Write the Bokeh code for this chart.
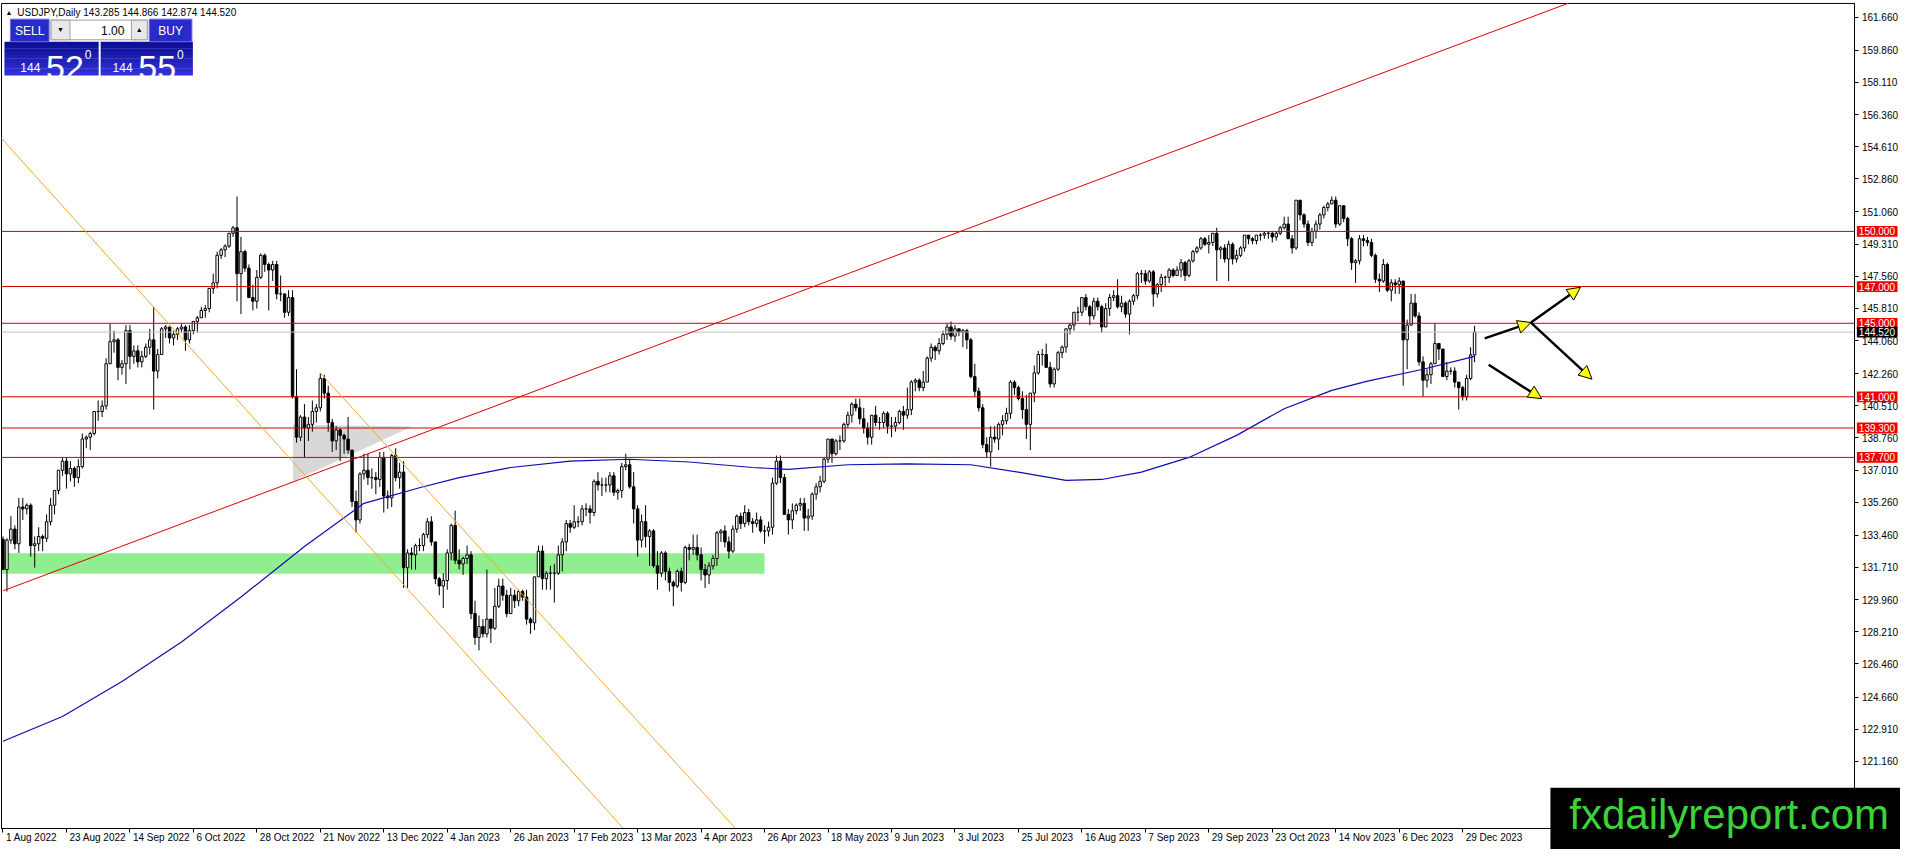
import numpy as np
from bokeh.plotting import figure
from bokeh.models import (ColumnDataSource, Range1d, FixedTicker, NumeralTickFormatter,
                          Label, LabelSet, Arrow, NormalHead)
from bokeh.core.properties import value
from bokeh.embed import file_html
from bokeh.resources import INLINE

# ---------------- data ----------------
SYMBOL = "USDJPY,Daily"
HEADER_OHLC = "143.285 144.866 142.874 144.520"
PREV_CLOSE = 133.25   # close before the first bar (opens follow the previous close)

HIGH = [
    133.4,133.3,134.5,134.0,135.5,135.5,135.2,135.2,133.4,133.9,133.5,134.6,135.5,135.9,137.0,137.7,137.7,137.5,137.2,137.6,139.0,138.9,139.1,
    140.2,140.8,140.8,143.1,145.0,144.6,144.2,143.0,144.9,144.9,143.8,143.8,143.5,143.9,144.7,145.9,143.6,144.8,144.9,144.8,144.6,144.8,
    145.0,144.9,144.9,145.1,145.4,145.9,146.0,146.9,147.7,148.9,149.1,149.3,149.9,150.3,151.9,149.7,149.0,148.2,147.1,147.9,148.8,
    148.8,148.3,148.4,148.4,147.6,146.6,146.8,146.8,142.5,140.0,140.6,139.9,140.8,140.6,142.3,142.2,141.6,139.8,139.4,139.3,139.0,139.9,
    138.1,135.9,136.9,137.9,137.9,137.1,136.9,138.0,138.0,135.9,137.9,138.2,137.4,137.5,132.7,132.8,133.0,133.3,133.6,134.4,134.5,133.1,
    131.2,131.4,132.7,134.1,134.8,132.7,132.3,132.9,132.6,129.9,129.1,128.9,131.6,128.9,130.6,131.1,131.1,130.5,130.6,130.5,130.5,130.5,
    130.5,129.0,131.2,132.9,132.9,131.5,131.8,131.9,132.9,133.3,134.3,134.3,135.1,134.5,135.1,135.2,135.1,136.5,136.9,136.6,
    136.6,136.9,136.9,136.0,137.4,137.9,137.6,136.9,135.1,134.6,135.1,133.8,133.8,132.6,132.6,132.6,131.7,131.0,131.6,131.7,132.9,133.0,133.5,
    133.5,132.8,131.9,132.0,132.4,133.7,133.8,134.0,133.4,134.0,134.6,134.7,135.1,134.9,134.4,134.7,134.5,134.0,134.2,136.6,
    137.8,137.8,136.8,134.9,135.2,135.2,135.5,135.5,134.9,135.8,136.3,136.7,137.7,138.7,138.7,138.7,138.9,139.6,140.2,140.7,140.9,140.9,140.4,
    139.6,140.0,140.5,139.9,140.2,140.2,139.9,139.9,140.3,140.5,141.5,141.9,142.0,142.0,142.4,143.2,143.9,143.8,144.2,144.6,145.0,145.1,
    144.9,144.7,144.7,144.7,144.2,142.8,141.5,140.6,138.8,139.4,139.4,139.6,140.0,140.4,141.9,141.9,141.6,141.3,141.1,141.2,142.7,
    143.5,143.6,143.9,142.9,142.6,143.5,143.8,144.7,145.0,145.6,145.9,146.4,146.6,146.0,146.4,146.4,146.0,146.1,146.6,146.8,147.4,146.5,146.2,
    146.3,146.6,147.8,147.9,147.9,147.9,147.9,147.2,147.7,147.6,148.0,148.0,148.1,148.5,148.4,148.5,149.0,149.2,149.7,149.7,149.8,
    149.9,150.2,149.2,149.3,149.5,149.4,149.0,149.2,149.8,149.8,149.7,149.8,149.9,150.0,150.0,150.0,150.0,150.3,150.8,150.8,149.8,151.7,
    151.7,151.0,150.6,150.2,150.6,151.0,151.4,151.6,151.9,151.9,151.4,151.4,150.8,149.7,148.5,149.8,149.8,149.7,149.6,148.8,147.7,148.5,
    148.3,147.4,147.4,147.5,147.3,145.2,146.6,146.6,145.6,143.2,142.5,142.9,145.0,143.9,143.6,142.9,142.6,142.6,141.8,141.6,
    142.2,143.7,144.866,
]
LOW = [
    131.6,130.4,133.0,132.7,132.5,134.3,134.6,132.3,131.7,132.6,132.6,133.1,134.0,134.6,135.7,136.7,136.0,136.4,136.1,136.3,137.1,138.2,138.1,
    138.9,139.7,139.9,140.3,142.8,143.4,141.9,142.2,141.7,142.5,142.8,142.6,142.6,143.1,143.3,140.3,142.0,143.3,144.2,143.9,143.8,144.1,
    144.5,143.5,143.9,144.4,144.5,145.3,145.3,145.6,146.6,146.9,148.5,148.6,149.1,149.7,146.2,145.5,147.8,146.4,145.7,145.8,147.4,
    147.8,145.7,147.3,146.3,146.2,145.3,145.4,140.9,138.5,138.6,137.7,138.6,139.1,139.6,140.2,140.9,139.1,138.0,138.1,137.5,137.9,137.9,
    135.0,133.6,134.1,136.5,136.2,136.0,135.7,136.1,134.7,134.9,135.0,136.4,136.0,130.6,130.6,131.6,131.6,132.6,132.6,133.3,132.9,130.8,
    130.2,129.5,130.5,132.1,131.9,131.6,131.3,131.9,128.9,127.5,127.2,127.9,127.9,127.6,128.3,129.5,129.9,129.0,129.2,129.5,129.6,129.9,
    128.6,128.1,128.3,131.2,130.5,130.5,130.5,129.8,131.3,131.5,132.6,133.6,133.8,133.9,134.0,134.5,134.1,134.5,135.9,135.6,
    135.8,135.8,135.6,135.4,135.5,137.0,136.0,134.1,132.3,132.8,132.8,131.8,131.7,130.5,131.2,131.0,130.4,129.6,130.6,130.4,130.8,132.1,132.4,
    132.1,131.0,130.6,130.8,131.6,131.8,133.1,132.8,132.2,132.5,133.6,133.8,133.9,134.0,133.6,133.9,133.6,133.0,133.4,133.5,
    136.2,136.3,134.6,133.5,133.8,134.6,134.8,133.7,133.7,134.3,135.4,135.8,136.3,137.4,137.4,137.8,138.1,138.5,139.3,139.6,140.2,139.5,139.0,
    138.4,138.4,139.4,139.2,139.3,139.0,138.8,139.1,139.5,139.2,139.8,140.0,141.3,141.3,141.3,141.8,142.9,143.0,143.3,143.8,144.1,144.1,
    144.0,144.3,143.7,143.6,142.0,141.0,140.2,138.2,137.7,137.2,138.5,138.1,138.9,139.5,139.8,141.1,140.8,139.8,138.7,138.1,140.7,
    142.2,142.7,142.6,141.5,141.5,142.4,143.1,143.4,144.4,144.6,145.1,145.4,145.7,144.9,145.2,145.7,144.5,144.8,145.4,146.2,145.8,145.6,145.3,
    144.4,146.0,146.3,147.2,147.1,147.2,145.9,146.4,146.7,147.0,147.2,147.5,147.6,147.5,147.3,147.5,148.3,148.8,149.0,149.2,148.8,
    149.2,147.3,148.5,148.3,147.3,148.2,148.3,148.6,148.9,149.3,149.3,149.3,149.5,149.6,149.6,149.4,149.5,149.8,150.1,149.6,148.8,149.0,
    150.6,150.2,149.2,149.2,149.6,150.1,150.7,151.1,151.5,150.2,150.3,150.5,149.2,147.9,147.2,148.2,149.2,149.2,148.6,147.2,146.7,147.2,
    146.7,146.2,146.6,146.6,141.6,142.5,144.9,145.3,142.7,141.0,141.5,141.7,142.8,143.0,142.1,141.9,142.2,141.5,140.3,140.8,
    140.8,141.9,142.874,
]
CLOSE = [
    131.6,133.2,133.8,133.0,135.0,134.9,135.1,132.9,133.0,133.4,133.3,134.2,135.1,135.9,137.0,137.5,136.8,137.1,136.6,137.2,138.7,138.8,139.0,
    140.2,140.2,140.5,142.8,144.0,144.1,142.6,142.8,144.6,143.2,143.5,142.9,143.2,143.7,144.1,142.4,143.3,144.7,144.8,144.2,144.4,144.7,
    144.8,144.1,144.6,145.1,145.3,145.7,145.8,146.9,147.2,148.7,149.0,149.2,149.9,150.2,147.7,148.9,148.0,146.4,146.2,147.5,148.7,
    148.2,147.9,148.2,146.6,146.6,145.6,146.4,141.0,138.8,139.9,139.3,139.5,140.2,140.4,142.0,141.2,139.6,138.6,139.2,138.9,138.7,138.1,
    135.3,134.3,136.8,137.0,136.6,136.6,136.5,137.7,135.6,135.5,137.8,136.6,136.9,131.7,132.5,132.4,132.9,132.9,133.5,134.2,133.1,131.1,
    130.7,131.0,132.5,134.0,132.1,131.9,132.2,132.4,129.2,127.9,128.5,128.1,128.9,128.4,129.6,130.7,130.2,129.2,130.2,129.9,130.4,130.1,
    128.9,128.7,131.2,132.6,131.1,131.4,131.4,131.4,132.4,133.1,134.1,133.9,134.2,134.2,134.9,134.9,134.7,136.4,136.2,136.2,
    136.2,136.7,135.8,135.9,137.2,137.3,136.1,134.9,133.2,134.2,133.4,133.7,131.8,131.4,132.5,131.5,130.9,130.7,131.5,130.9,132.8,132.7,132.8,
    132.4,131.6,131.3,131.8,132.2,133.6,133.7,133.1,132.6,133.8,134.5,134.1,134.7,134.2,134.1,134.3,133.7,133.7,133.9,136.3,
    137.5,136.6,134.6,134.3,134.8,135.1,135.2,134.4,134.5,135.7,136.1,136.4,137.6,138.7,137.9,138.6,138.6,139.5,140.0,140.6,140.4,139.8,139.3,
    138.8,140.0,139.6,139.6,140.1,139.4,139.4,139.6,140.2,140.0,140.3,141.8,141.9,141.5,141.8,143.1,143.7,143.5,143.9,144.4,144.8,144.3,
    144.7,144.5,144.6,144.1,142.1,141.3,140.4,138.4,138.0,138.8,138.7,139.5,139.7,140.1,141.8,141.5,140.9,140.3,139.5,141.2,142.3,
    143.3,143.3,142.6,141.7,142.5,143.4,143.7,144.7,144.9,145.6,145.6,146.4,145.9,145.4,146.2,145.9,144.8,145.8,146.4,146.5,145.9,146.1,145.5,
    146.2,146.5,147.7,147.7,147.3,147.8,146.6,147.1,147.5,147.5,147.9,147.6,147.9,148.3,147.6,148.4,148.9,149.1,149.6,149.3,149.4,
    149.9,149.0,149.1,148.5,149.3,148.5,148.7,149.1,149.8,149.6,149.5,149.8,149.8,149.9,149.9,149.7,149.9,150.2,150.4,149.6,149.1,151.7,
    150.9,150.4,149.4,150.0,150.4,150.9,151.3,151.5,151.7,150.4,151.4,150.7,149.6,148.3,148.4,149.6,149.5,149.4,148.7,147.4,147.3,148.2,
    146.8,147.2,147.1,147.3,144.1,144.9,146.1,145.4,142.9,141.9,142.2,142.8,143.9,143.6,142.1,142.4,142.4,141.8,141.5,141.0,
    142.0,143.285,144.52,
]

X_TICK_STEP = 16
X_TICK_LABELS = ["1 Aug 2022", "23 Aug 2022", "14 Sep 2022", "6 Oct 2022", "28 Oct 2022",
                 "21 Nov 2022", "13 Dec 2022", "4 Jan 2023", "26 Jan 2023", "17 Feb 2023",
                 "13 Mar 2023", "4 Apr 2023", "26 Apr 2023", "18 May 2023", "9 Jun 2023",
                 "3 Jul 2023", "25 Jul 2023", "16 Aug 2023", "7 Sep 2023", "29 Sep 2023",
                 "23 Oct 2023", "14 Nov 2023", "6 Dec 2023", "29 Dec 2023"]
Y_TICKS = [161.66, 159.86, 158.11, 156.36, 154.61, 152.86, 151.06, 149.31, 147.56, 145.81,
           144.06, 142.26, 140.51, 138.76, 137.01, 135.26, 133.46, 131.71, 129.96, 128.21,
           126.46, 124.66, 122.91, 121.16]

LEVELS = [150.0, 147.0, 145.0, 141.0, 139.3, 137.7]
BID = 144.52

MA_IDX = [0, 15, 30, 45, 60, 76, 91, 105, 115, 128, 143, 158, 173, 189, 198, 213, 228, 244,
          256, 268, 277, 287, 299, 311, 323, 335, 344, 358, 371]
MA_VAL = [122.25, 123.6, 125.5, 127.65, 130.1, 132.85, 135.2, 136.05, 136.6, 137.15, 137.5,
          137.6, 137.45, 137.15, 137.05, 137.3, 137.35, 137.3, 136.9, 136.45, 136.5, 136.9,
          137.7, 138.9, 140.35, 141.35, 141.85, 142.5, 143.2]

TREND_X = [0, 394.5]
TREND_Y = [130.44, 162.41]
CHAN_A_X = [-0.375, 156.5]
CHAN_A_Y = [155.07, 117.48]
CHAN_B_X = [80, 184.8]
CHAN_B_Y = [142.3, 117.48]
ZONE_X = [-0.25, 192]
ZONE_Y = [131.37, 132.49]
TRI_X = [73.1, 73.1, 103.1]
TRI_Y = [139.49, 136.39, 139.38]
ARROWS = [(373.55, 144.18, 385.2, 145.04),
          (385.2, 145.04, 397.7, 146.96),
          (385.2, 145.04, 400.6, 141.96),
          (374.55, 142.74, 387.9, 140.90)]

SELL_PRICE = ("144", "52", "0")
BUY_PRICE = ("144", "55", "0")
LOT = "1.00"
WATERMARK = "fxdailyreport.com"

assert len(HIGH) == len(LOW) == len(CLOSE) == 372, (len(HIGH), len(LOW), len(CLOSE))

# ---------------- helpers: reference-pixel -> data ----------------
def X(px):
    return (px - 2.5) / 4.0

def Y(py):
    return 161.66 - (py - 17.0) / 18.72

FONT = "Liberation Sans"
CH_L, CH_R, CH_T, CH_B = 1, 1870, 3, 844   # chart area in reference pixels

p = figure(width=1900, height=849,
           x_range=Range1d(X(0), X(1916)), y_range=Range1d(Y(865), Y(0)),
           y_axis_location="right", output_backend="svg", toolbar_location=None,
           min_border=0, background_fill_color="white", border_fill_color="white")
p.xgrid.visible = False
p.ygrid.visible = False
p.outline_line_color = None

ya = p.yaxis[0]
ya.fixed_location = X(CH_R)
ya.bounds = (Y(CH_B), Y(CH_T))
ya.ticker = FixedTicker(ticks=Y_TICKS)
ya.formatter = NumeralTickFormatter(format="0.000")
ya.major_tick_out = 4
ya.major_tick_in = 0
ya.minor_tick_out = 0
ya.minor_tick_in = 0
ya.major_label_standoff = 3
ya.major_label_text_font = FONT
ya.major_label_text_font_size = "10px"
ya.major_label_text_color = "black"
ya.axis_line_color = "black"

X_TICKS = list(range(0, X_TICK_STEP * len(X_TICK_LABELS), X_TICK_STEP))
xa = p.xaxis[0]
xa.fixed_location = Y(CH_B)
xa.bounds = (X(CH_L), X(CH_R))
xa.ticker = FixedTicker(ticks=X_TICKS)
xa.major_label_overrides = {t: "" for t in X_TICKS}
xa.major_tick_out = 4
xa.major_tick_in = 0
xa.minor_tick_out = 0
xa.minor_tick_in = 0
xa.axis_line_color = "black"

# chart border (left and top)
p.segment(x0=[X(CH_L), X(CH_L)], y0=[Y(CH_T), Y(CH_T)], x1=[X(CH_L), X(CH_R)],
          y1=[Y(CH_B), Y(CH_T)], line_color="black", line_width=1)

# background objects
p.quad(left=[ZONE_X[0]], right=[ZONE_X[1]], bottom=[ZONE_Y[0]], top=[ZONE_Y[1]],
       fill_color="#90ee90", line_color=None)
p.patch(TRI_X, TRI_Y, fill_color="#d8d8d8", line_color=None)

# candles
n = len(CLOSE)
idx = np.arange(n)
close = np.array(CLOSE)
opn = np.array([PREV_CLOSE] + CLOSE[:-1])
hi = np.array(HIGH)
lo = np.array(LOW)
top = np.maximum(opn, close)
bot = np.minimum(opn, close)
bull = close >= opn
p.segment(x0=idx, y0=np.minimum(lo, bot), x1=idx, y1=np.maximum(hi, top),
          line_color="black", line_width=1)
p.vbar(x=idx[bull], width=0.62, top=top[bull], bottom=bot[bull],
       fill_color="white", line_color="black", line_width=1)
p.vbar(x=idx[~bull], width=0.62, top=top[~bull], bottom=bot[~bull],
       fill_color="black", line_color="black", line_width=1)

# moving average
p.line(MA_IDX, MA_VAL, line_color="#0c0cb0", line_width=1.2)

# horizontal levels and bid line
x_lo, x_hi = X(CH_L), X(CH_R)
p.segment(x0=[x_lo] * len(LEVELS), y0=LEVELS, x1=[x_hi] * len(LEVELS), y1=LEVELS,
          line_color="#d40000", line_width=1)
p.segment(x0=[x_lo], y0=[BID], x1=[x_hi], y1=[BID], line_color="#c0c0c0", line_width=1)

# trend lines
p.line(TREND_X, TREND_Y, line_color="#dc0000", line_width=1)
p.line(CHAN_A_X, CHAN_A_Y, line_color="#f5a623", line_width=1)
p.line(CHAN_B_X, CHAN_B_Y, line_color="#f5a623", line_width=1)

# arrows
for (xs, ys, xe, ye) in ARROWS:
    p.add_layout(Arrow(end=NormalHead(size=13, fill_color="#ffff00", line_color="black", line_width=1),
                       x_start=xs, y_start=ys, x_end=xe, y_end=ye,
                       line_color="black", line_width=2.5))

# price tags on the axis
half = 5.5 / 18.72
tag_vals = LEVELS + [BID]
tag_cols = ["#f00000"] * len(LEVELS) + ["black"]
p.quad(left=[X(1872)] * len(tag_vals), right=[X(1913)] * len(tag_vals),
       bottom=[v - half for v in tag_vals], top=[v + half for v in tag_vals],
       fill_color=tag_cols, line_color=None)
tag_src = ColumnDataSource(dict(x=[X(1874)] * len(tag_vals), y=tag_vals,
                                text=[f"{v:.3f}" for v in tag_vals]))
p.add_layout(LabelSet(x="x", y="y", text="text", source=tag_src, text_align="left",
                      text_baseline="middle", text_font=value(FONT), text_font_size="10px",
                      text_color="white"))

# x tick labels (left aligned after the tick, like the terminal)
xl_src = ColumnDataSource(dict(x=X_TICKS, y=[Y(853)] * len(X_TICKS), text=X_TICK_LABELS))
p.add_layout(LabelSet(x="x", y="y", text="text", source=xl_src, x_offset=3,
                      text_align="left", text_baseline="middle",
                      text_font=value(FONT), text_font_size="10px", text_color="black"))

# header
p.add_layout(Label(x=X(5), y=Y(12), text="\u25b2", text_align="left", text_baseline="middle",
                   text_font_size="7px", text_color="black"))
p.add_layout(Label(x=X(17), y=Y(12), text=f"{SYMBOL}  {HEADER_OHLC}", text_align="left",
                   text_baseline="middle", text_font=FONT, text_font_size="10px",
                   text_color="black"))

# one-click trading panel
def box(l, r, t, b, fill, line=None):
    p.quad(left=[X(l)], right=[X(r)], top=[Y(t)], bottom=[Y(b)], fill_color=fill,
           line_color=line, line_width=1)

def grad_box(l, r, t, b, c0, c1, steps=10):
    c0 = np.array([int(c0[i:i + 2], 16) for i in (1, 3, 5)])
    c1 = np.array([int(c1[i:i + 2], 16) for i in (1, 3, 5)])
    h = (b - t) / steps
    for k in range(steps):
        c = c0 + (c1 - c0) * (k / (steps - 1))
        col = "#%02x%02x%02x" % tuple(int(v) for v in c)
        box(l, r, t + k * h, t + (k + 1) * h + 0.3, col)

grad_box(4, 99, 42, 76, "#0e0e94", "#3030d8")
grad_box(101, 194, 42, 76, "#0e0e94", "#3030d8")
box(10, 49, 19, 42, "#2a2acc", "#6a6ae8")
box(150, 193, 19, 42, "#2a2acc", "#6a6ae8")
box(51, 148, 20, 40, "#ffffff", "#a0a0a0")
box(51, 70, 20, 40, "#e8e8e8", "#a0a0a0")
box(132, 148, 20, 40, "#e8e8e8", "#a0a0a0")

def txt(px, py, s, size, color="white", align="left", baseline="middle"):
    p.add_layout(Label(x=X(px), y=Y(py), text=s, text_align=align, text_baseline=baseline,
                       text_font=FONT, text_font_size=size, text_color=color))

txt(29.5, 31, "SELL", "12px", align="center")
txt(171.5, 31, "BUY", "12px", align="center")
txt(60.5, 30, "\u25bc", "7px", color="black", align="center")
txt(140, 30, "\u25b2", "7px", color="black", align="center")
txt(125, 31, LOT, "12px", color="black", align="right")
txt(20, 68, SELL_PRICE[0], "12px", baseline="alphabetic")
txt(46, 68, SELL_PRICE[1], "34px", baseline="alphabetic")
txt(85, 55, SELL_PRICE[2], "12px", baseline="alphabetic")
txt(113, 68, BUY_PRICE[0], "12px", baseline="alphabetic")
txt(139, 68, BUY_PRICE[1], "34px", baseline="alphabetic")
txt(178, 55, BUY_PRICE[2], "12px", baseline="alphabetic")

# watermark
box(1563, 1916, 802, 866, "black")
txt(1582, 829, WATERMARK, "42px", color="#3cd23c")

open("out.html", "w").write(file_html(p, INLINE))
